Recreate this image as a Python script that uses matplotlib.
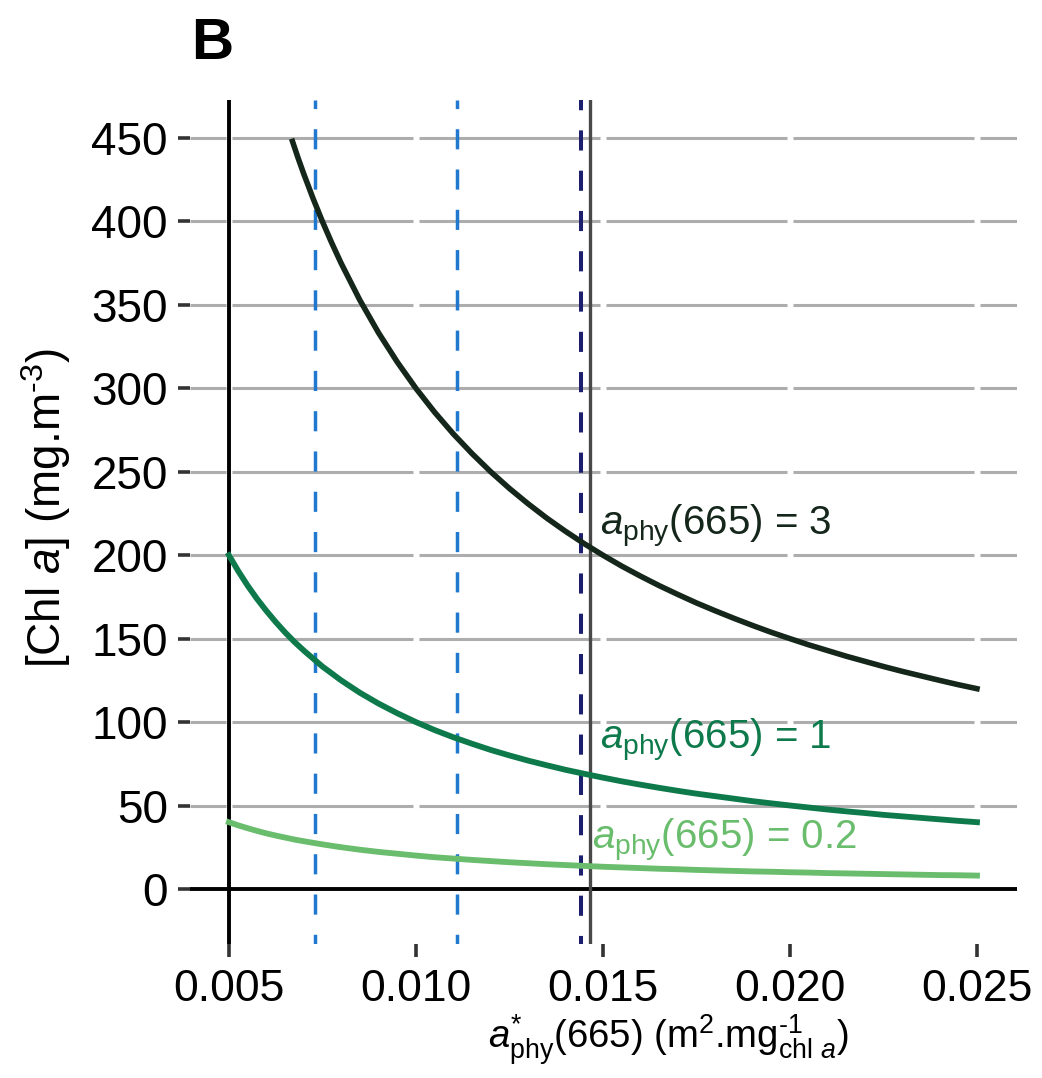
import matplotlib
matplotlib.use("Agg")
import matplotlib.pyplot as plt

plt.rcParams['font.family'] = ['Liberation Sans', 'DejaVu Sans']
plt.rcParams['mathtext.fontset'] = 'custom'
plt.rcParams['mathtext.rm'] = 'Liberation Sans'
plt.rcParams['mathtext.it'] = 'Liberation Sans:italic'
plt.rcParams['mathtext.bf'] = 'Liberation Sans:bold'

# ---- data ----
x_low = [0.005, 0.00525, 0.0055, 0.00575, 0.006, 0.00625, 0.0065, 0.00675, 0.007, 0.0075,
         0.008, 0.0085, 0.009, 0.0095, 0.010, 0.0105, 0.011, 0.0115, 0.012, 0.0125,
         0.013, 0.0135, 0.014, 0.0145, 0.015, 0.0155, 0.016, 0.0165, 0.017, 0.0175,
         0.018, 0.0185, 0.019, 0.0195, 0.020, 0.0205, 0.021, 0.0215, 0.022, 0.0225,
         0.023, 0.0235, 0.024, 0.0245, 0.025]
chl_a1 = [200, 190.5, 181.8, 173.9, 166.7, 160, 153.8, 148.1, 142.9, 133.3,
          125, 117.6, 111.1, 105.3, 100, 95.2, 90.9, 87.0, 83.3, 80,
          76.9, 74.1, 71.4, 69.0, 66.7, 64.5, 62.5, 60.6, 58.8, 57.1,
          55.6, 54.1, 52.6, 51.3, 50, 48.8, 47.6, 46.5, 45.5, 44.4,
          43.5, 42.6, 41.7, 40.8, 40]
chl_a02 = [40, 38.1, 36.4, 34.8, 33.3, 32, 30.8, 29.6, 28.6, 26.7,
           25, 23.5, 22.2, 21.1, 20, 19.0, 18.2, 17.4, 16.7, 16,
           15.4, 14.8, 14.3, 13.8, 13.3, 12.9, 12.5, 12.1, 11.8, 11.4,
           11.1, 10.8, 10.5, 10.3, 10, 9.8, 9.5, 9.3, 9.1, 8.9,
           8.7, 8.5, 8.3, 8.2, 8]
x_high = [0.0067, 0.00685, 0.007, 0.00725, 0.0075, 0.00775, 0.008, 0.0085, 0.009, 0.0095,
          0.010, 0.0105, 0.011, 0.0115, 0.012, 0.0125, 0.013, 0.0135, 0.014, 0.0145,
          0.015, 0.0155, 0.016, 0.0165, 0.017, 0.0175, 0.018, 0.0185, 0.019, 0.0195,
          0.020, 0.0205, 0.021, 0.0215, 0.022, 0.0225, 0.023, 0.0235, 0.024, 0.0245, 0.025]
chl_a3 = [448, 438, 428.6, 413.8, 400, 387.1, 375, 352.9, 333.3, 315.8,
          300, 285.7, 272.7, 260.9, 250, 240, 230.8, 222.2, 214.3, 206.9,
          200, 193.5, 187.5, 181.8, 176.5, 171.4, 166.7, 162.2, 157.9, 153.8,
          150, 146.3, 142.9, 139.5, 136.4, 133.3, 130.4, 127.7, 125, 122.4, 120]

series_labels = [r"$a_{\rm phy}$(665) = 3", r"$a_{\rm phy}$(665) = 1", r"$a_{\rm phy}$(665) = 0.2"]
label_pos = [(0.01492, 217), (0.01492, 89), (0.01472, 29)]
colors = ["#15261b", "#0e7a4c", "#69bd6c"]

blue_dashed = [0.0073, 0.0111]
navy_dashed = [0.01441]
gray_solid = [0.01465]

xticks = [0.005, 0.010, 0.015, 0.020, 0.025]
xticklabels = ["0.005", "0.010", "0.015", "0.020", "0.025"]
yticks = [0, 50, 100, 150, 200, 250, 300, 350, 400, 450]

HY = "\u2010"
xlabel = "$a^{*}_{\\rm phy}$(665) (m$^{2}$.mg$^{" + HY + "1}_{\\rm chl\\ \\mathit{a}}$)"
ylabel = "[Chl $a$] (mg.m$^{" + HY + "3}$)"

W, H = 1042, 1078
fig = plt.figure(figsize=(W / 100, H / 100), dpi=100)
ax = fig.add_axes([190 / W, (H - 944) / H, (1017 - 190) / W, (944 - 100) / H])

xlim = (0.00396, 0.02607)
ax.set_xlim(*xlim)
ax.set_ylim(-33, 472.8)

for s in ax.spines.values():
    s.set_visible(False)

# grid: segments broken at each x tick
gap = 0.00007
bounds = [xlim[0]] + xticks + [xlim[1]]
for yv in yticks[1:]:
    for a, b in zip(bounds[:-1], bounds[1:]):
        x0 = a + (gap if a in xticks else 0)
        x1 = b - (gap if b in xticks else 0)
        ax.hlines(yv, x0, x1, color="#adadad", lw=2.2, zorder=1)
ax.axhline(0, color="black", lw=2.8, zorder=2)
ax.axvline(0.005, color="black", lw=2.8, zorder=2)

for xv in blue_dashed:
    ax.axvline(xv, color="#2079cf", lw=2.5, ls=(3, (5.8, 5.8)), zorder=3)
for xv in navy_dashed:
    ax.axvline(xv, color="#1b1f6e", lw=2.9, ls=(3, (5.0, 5.0)), zorder=3)
for xv in gray_solid:
    ax.axvline(xv, color="#484848", lw=2.4, zorder=3)

ax.plot(x_high, chl_a3, color=colors[0], lw=4.0, zorder=4, solid_joinstyle="round")
ax.plot(x_low, chl_a1, color=colors[1], lw=4.2, zorder=4, solid_joinstyle="round")
ax.plot(x_low, chl_a02, color=colors[2], lw=4.2, zorder=4, solid_joinstyle="round")

for (tx, ty), lab, c in zip(label_pos, series_labels, colors):
    ax.text(tx, ty, lab, color=c, fontsize=29, ha="left", va="center", zorder=5)

ax.set_xticks(xticks)
ax.set_xticklabels(xticklabels)
ax.set_yticks(yticks)
ax.tick_params(axis="both", colors="#333333", width=2.6, length=9,
               labelcolor="black", pad=7)
ax.tick_params(axis="x", labelsize=32, pad=9)
ax.tick_params(axis="y", labelsize=33)

fig.text(668 / W, 1 - 1040 / H, xlabel, fontsize=27.5, ha="center", va="center")
fig.text(46 / W, 1 - 508 / H, ylabel, fontsize=33, rotation=90, ha="center", va="center")

fig.text(212 / W, 1 - 44 / H, "B", fontsize=42, fontweight="bold", ha="center", va="center")

fig.savefig("out.png", dpi=100)
